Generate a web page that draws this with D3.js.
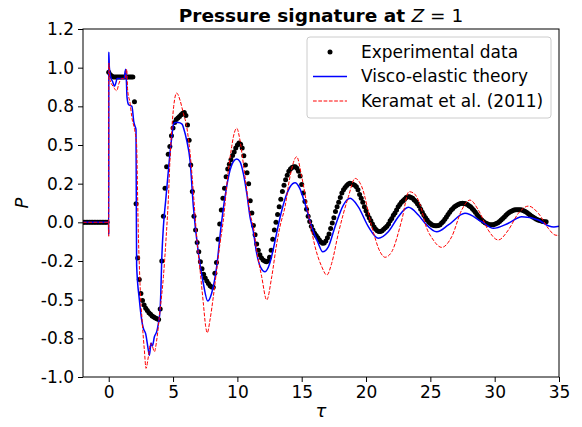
<!DOCTYPE html>
<html><head><meta charset="utf-8">
<script src="https://cdn.jsdelivr.net/npm/d3@7"></script>
<style>body{margin:0;background:#fff}svg{display:block}text{font-family:"DejaVu Sans",sans-serif}</style>
</head><body><div id="chart"></div>
<script>
// ---------- data ----------
const xTicks = [0, 5, 10, 15, 20, 25, 30, 35];
const yTicks = [-1, -0.75, -0.5, -0.25, 0, 0.25, 0.5, 0.75, 1, 1.25];
const yTickLabels = ["-1.0", "-0.8", "-0.5", "-0.2", "0.0", "0.2", "0.5", "0.8", "1.0", "1.2"];

// Experimental data: sampled every 0.125 from tau = -2
const expStart = -2, expStep = 0.125;
const expP = [
  0,0,0,0,0,0,0,0, 0,0,0,0,0,0,0,0,
  0.97,0.955,0.945,0.94,0.94,0.94,0.94,0.94,
  0.94,0.94,0.94,0.94,0.94,0.94,0.94,0.94,
  0.78,0.12,-0.23,-0.37,-0.46,-0.505,-0.535,-0.555,
  -0.57,-0.585,-0.595,-0.605,-0.612,-0.618,-0.624,-0.628,
  -0.56,-0.25,0.04,0.22,0.36,0.44,0.49,0.56,
  0.61,0.645,0.665,0.675,0.685,0.695,0.705,0.71,
  0.69,0.63,0.53,0.37,0.2,0.04,-0.05,-0.13,
  -0.19,-0.255,-0.3,-0.335,-0.36,-0.38,-0.395,-0.41,
  -0.418,-0.42,-0.33,-0.26,-0.11,-0.01,0.08,0.155,
  0.22,0.295,0.345,0.375,0.405,0.432,0.455,0.48,
  0.5,0.513,0.505,0.48,0.43,0.37,0.32,0.25,
  0.14,0.06,-0.02,-0.08,-0.14,-0.18,-0.21,-0.23,
  -0.243,-0.25,-0.255,-0.25,-0.225,-0.18,-0.11,-0.05,
  0.0,0.05,0.1,0.15,0.2,0.24,0.275,0.305,
  0.33,0.345,0.355,0.36,0.36,0.35,0.33,0.3,
  0.245,0.19,0.135,0.085,0.04,0.005,-0.025,-0.05,
  -0.07,-0.085,-0.1,-0.115,-0.127,-0.135,-0.133,-0.12,
  -0.1,-0.075,-0.04,-0.005,0.03,0.07,0.1,0.13,
  0.16,0.19,0.21,0.225,0.238,0.248,0.252,0.25,
  0.245,0.24,0.23,0.21,0.18,0.155,0.13,0.1,
  0.075,0.05,0.03,0.01,-0.01,-0.03,-0.045,-0.055,
  -0.06,-0.06,-0.055,-0.045,-0.035,-0.025,-0.01,0.01,
  0.025,0.045,0.06,0.08,0.1,0.115,0.13,0.14,
  0.15,0.16,0.165,0.165,0.16,0.155,0.145,0.135,
  0.12,0.105,0.085,0.065,0.045,0.03,0.015,0.0,
  -0.008,-0.015,-0.02,-0.022,-0.022,-0.02,-0.015,-0.005,
  0.005,0.02,0.035,0.05,0.065,0.08,0.09,0.1,
  0.108,0.114,0.119,0.122,0.123,0.122,0.12,0.115,
  0.108,0.1,0.09,0.078,0.065,0.05,0.038,0.025,
  0.015,0.005,-0.002,-0.008,-0.012,-0.015,-0.016,-0.015,
  -0.012,-0.008,-0.002,0.005,0.015,0.025,0.035,0.045,
  0.055,0.063,0.07,0.075,0.079,0.081,0.082,0.082,
  0.081,0.079,0.075,0.07,0.063,0.055,0.047,0.04,
  0.033,0.027,0.02,0.015,0.012,0.008,0.006,0.004,
  0.003
];

// Visco-elastic theory
const viscoT = [-2,-0.01,0,0.008,0.05,0.15,0.3,0.45,0.55,0.65,0.9,1.2,1.27,1.33,1.38,1.42,1.55,1.8,1.95,2.05,2.12,2.14,2.17,2.38,2.56,2.69,2.87,3.03,3.16,3.29,3.39,3.55,3.73,3.86,3.99,4.05,4.12,4.25,4.43,4.6,4.75,4.9,5.02,5.15,5.4,5.7,5.85,6.06,6.32,6.58,6.97,7.35,7.7,8.0,8.39,8.73,9.04,9.37,9.69,9.95,10.2,10.46,10.73,10.98,11.24,11.5,11.8,12.15,12.5,12.8,13.1,13.4,13.7,14.1,14.48,14.85,15.26,15.78,16.29,16.63,17.07,17.59,18.24,18.76,19.4,20.18,20.96,21.73,22.51,23.29,24.07,24.59,25.5,26.4,27.69,28.99,29.9,31.06,32.1,33.4,34.17,34.6,35];
const viscoP = [0,0,-0.08,1.1,1.0,0.94,0.91,0.88,0.9,0.93,0.93,0.93,0.975,0.99,0.9,0.81,0.76,0.75,0.65,0.62,0.6,0.2,-0.28,-0.5,-0.63,-0.685,-0.72,-0.8,-0.86,-0.78,-0.8,-0.74,-0.707,-0.653,-0.567,-0.45,-0.244,-0.028,0.144,0.3,0.44,0.55,0.63,0.645,0.645,0.635,0.6,0.53,0.4,0.1,-0.2,-0.394,-0.509,-0.459,-0.287,-0.028,0.166,0.317,0.392,0.409,0.392,0.317,0.187,0.036,-0.06,-0.2,-0.29,-0.32,-0.27,-0.17,-0.05,0.06,0.15,0.23,0.256,0.22,0.12,-0.03,-0.136,-0.19,-0.158,-0.028,0.112,0.155,0.1,-0.028,-0.103,-0.061,0.036,0.097,0.047,-0.006,-0.061,-0.017,0.058,0.004,-0.039,-0.006,0.036,0.015,-0.022,-0.03,-0.025];

// Keramat et al. (2011)
const keramatT = [-2,-0.01,0,0.008,0.1,0.36,0.62,0.8,1.01,1.27,1.4,1.47,1.66,1.79,2.04,2.17,2.22,2.25,2.43,2.61,2.77,2.9,3.08,3.26,3.39,3.55,3.73,3.99,4.25,4.45,4.63,4.76,4.9,5.05,5.28,5.54,5.8,6.06,6.19,6.4,6.58,6.75,6.9,7.1,7.35,7.54,7.66,7.87,8.13,8.39,8.65,8.91,9.3,9.56,9.69,9.95,10.2,10.46,10.73,10.98,11.24,11.5,11.89,12.28,12.67,13.06,13.31,13.7,14.09,14.61,15.0,15.52,16.04,16.56,16.95,17.33,17.85,18.63,19.15,19.67,20.45,21.09,21.48,22.0,22.78,23.34,23.68,24.33,24.59,25.23,25.88,26.66,27.44,28.08,28.73,29.5,30.28,31.06,31.84,32.62,33.4,34.17,34.69,35];
const keramatP = [0,0,-0.09,1.03,0.92,0.877,0.851,0.9,0.93,0.93,0.99,0.855,0.77,0.683,0.586,0.5,0.3,0.144,-0.394,-0.653,-0.826,-0.944,-0.869,-0.782,-0.8,-0.837,-0.761,-0.567,-0.352,-0.114,0.144,0.4,0.6,0.75,0.836,0.79,0.705,0.62,0.543,0.38,0.19,0.0,-0.15,-0.31,-0.52,-0.675,-0.714,-0.632,-0.481,-0.308,-0.136,0.015,0.338,0.49,0.553,0.608,0.532,0.381,0.209,0.058,-0.028,-0.18,-0.352,-0.502,-0.352,-0.136,-0.028,0.1,0.295,0.424,0.295,0.058,-0.158,-0.287,-0.341,-0.265,-0.071,0.166,0.284,0.23,-0.028,-0.19,-0.226,-0.19,0.015,0.198,0.19,0.08,-0.006,-0.114,-0.162,-0.093,0.08,0.144,0.08,-0.05,-0.114,-0.05,0.058,0.105,0.058,-0.039,-0.082,-0.085];

const legendLabels = ["Experimental data", "Visco-elastic theory", "Keramat et al. (2011)"];

// ---------- layout ----------
const W = 582, H = 427;
const L = 83, R = 559, T = 29, B = 377;
const FS = 17;
const x = d3.scaleLinear().domain([-2, 35]).range([L, R]);
const y = d3.scaleLinear().domain([-1, 1.25]).range([B, T]);

const svg = d3.select("#chart").append("svg").attr("width", W).attr("height", H);
svg.append("rect").attr("width", W).attr("height", H).attr("fill", "#fff");

svg.append("clipPath").attr("id", "clip").append("rect")
  .attr("x", L).attr("y", T).attr("width", R - L).attr("height", B - T);

const plot = svg.append("g").attr("clip-path", "url(#clip)");

// experimental dots
const expData = expP.map((p, i) => ({ t: expStart + i * expStep, p }));
plot.append("g").selectAll("circle").data(expData).join("circle")
  .attr("cx", d => x(d.t)).attr("cy", d => y(d.p)).attr("r", 2.5).attr("fill", "#000");

const line = d3.line().x(d => x(d[0])).y(d => y(d[1])).curve(d3.curveMonotoneX);

plot.append("path").datum(viscoT.map((t, i) => [t, viscoP[i]]))
  .attr("d", line).attr("fill", "none").attr("stroke", "#0000ff").attr("stroke-width", 1.5);

plot.append("path").datum(keramatT.map((t, i) => [t, keramatP[i]]))
  .attr("d", line).attr("fill", "none").attr("stroke", "#ff0000").attr("stroke-width", 1)
  .attr("stroke-dasharray", "3.7,1.6");

// axes
const xAxis = d3.axisBottom(x).tickValues(xTicks).tickSize(5).tickPadding(4).tickFormat(d3.format("d"));
const yAxis = d3.axisLeft(y).tickValues(yTicks).tickSize(5).tickPadding(4)
  .tickFormat((d, i) => yTickLabels[i]);

const gx = svg.append("g").attr("transform", `translate(0,${B})`).call(xAxis);
const gy = svg.append("g").attr("transform", `translate(${L},0)`).call(yAxis);
[gx, gy].forEach(g => {
  g.select(".domain").remove();
  g.selectAll("line").attr("stroke", "#000").attr("stroke-width", 1);
  g.selectAll("text").attr("font-size", FS).attr("fill", "#000").attr("font-family", "DejaVu Sans");
});

svg.append("rect").attr("x", L).attr("y", T).attr("width", R - L).attr("height", B - T)
  .attr("fill", "none").attr("stroke", "#000").attr("stroke-width", 1);

// title
const title = svg.append("text").attr("x", (L + R) / 2).attr("y", 22).attr("text-anchor", "middle")
  .attr("font-size", 18.5).attr("fill", "#000");
title.append("tspan").attr("font-weight", "bold").text("Pressure signature at ");
title.append("tspan").attr("font-style", "italic").text("Z");
title.append("tspan").text(" = 1");

// axis labels
svg.append("text").attr("x", (L + R) / 2).attr("y", 417).attr("text-anchor", "middle")
  .attr("font-size", 18).attr("font-style", "italic").text("τ");
svg.append("text").attr("transform", `translate(28,${(T + B) / 2}) rotate(-90)`).attr("text-anchor", "middle")
  .attr("font-size", 18).attr("font-style", "italic").text("P");

// legend
const lg = svg.append("g");
lg.append("rect").attr("x", 307).attr("y", 37).attr("width", 244).attr("height", 81).attr("rx", 3)
  .attr("fill", "#fff").attr("fill-opacity", 0.8).attr("stroke", "#cccccc").attr("stroke-width", 1);
const rowY = [52, 76.5, 101];
lg.append("circle").attr("cx", 330).attr("cy", rowY[0]).attr("r", 2.5).attr("fill", "#000");
lg.append("line").attr("x1", 313).attr("x2", 347).attr("y1", rowY[1]).attr("y2", rowY[1])
  .attr("stroke", "#0000ff").attr("stroke-width", 1.5);
lg.append("line").attr("x1", 313).attr("x2", 347).attr("y1", rowY[2]).attr("y2", rowY[2])
  .attr("stroke", "#ff0000").attr("stroke-width", 1).attr("stroke-dasharray", "3.7,1.6");
legendLabels.forEach((s, i) => {
  lg.append("text").attr("x", 361).attr("y", rowY[i]).attr("dy", "0.35em")
    .attr("font-size", FS).attr("fill", "#000").text(s);
});
</script></body></html>
